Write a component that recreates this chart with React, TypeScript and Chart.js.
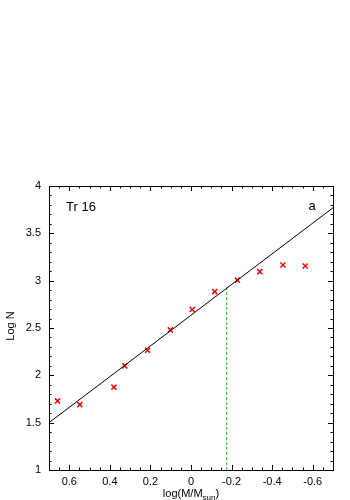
import React, { useEffect, useRef } from "react";
import { Chart, registerables } from "chart.js";

Chart.register(...registerables);

const massLog: number[] = [0.658, 0.548, 0.38, 0.326, 0.214, 0.102, -0.006, -0.117, -0.229, -0.339, -0.453, -0.563];
const logN: number[] = [1.73, 1.69, 1.875, 2.1, 2.265, 2.48, 2.695, 2.885, 3.005, 3.095, 3.165, 3.155];
const fitX: number[] = [0.7, -0.7];
const fitY: number[] = [1.5, 3.77];
const cutX: number[] = [-0.176, -0.176];
const cutY: number[] = [1, 2.93];
const xTickValues: number[] = [0.6, 0.4, 0.2, 0, -0.2, -0.4, -0.6];
const yTickValues: number[] = [1, 1.5, 2, 2.5, 3, 3.5, 4];
const xMinorStep = 0.05;
const yMinorStep = 0.1;
const clusterLabel = "Tr 16";
const panelLabel = "a";
const yTitle = "Log N";

const FONT = "'Liberation Sans', Arial, Helvetica, sans-serif";

const framePlugin = {
  id: "frameTicks",
  afterDraw(chart: any) {
    const ctx = chart.ctx;
    const { left, right, top, bottom } = chart.chartArea;
    const xs = chart.scales.x;
    const ys = chart.scales.y;
    ctx.save();
    ctx.strokeStyle = "#000";
    ctx.lineWidth = 1;
    ctx.strokeRect(Math.round(left) + 0.5, Math.round(top) + 0.5, Math.round(right - left), Math.round(bottom - top));
    ctx.beginPath();
    for (let i = -14; i <= 14; i++) {
      const v = i * xMinorStep;
      const px = Math.round(xs.getPixelForValue(v)) + 0.5;
      if (px < left || px > right) continue;
      const major = i % 4 === 0;
      const len = major ? 5 : 2.5;
      ctx.moveTo(px, bottom);
      ctx.lineTo(px, bottom - len);
      ctx.moveTo(px, top);
      ctx.lineTo(px, top + len);
    }
    for (let i = 10; i <= 40; i++) {
      const v = i * yMinorStep;
      const py = Math.round(ys.getPixelForValue(v)) + 0.5;
      const major = i % 5 === 0;
      const len = major ? 5 : 2.5;
      ctx.moveTo(left, py);
      ctx.lineTo(left + len, py);
      ctx.moveTo(right, py);
      ctx.lineTo(right - len, py);
    }
    ctx.stroke();

    ctx.fillStyle = "#000";
    ctx.textBaseline = "middle";
    ctx.font = `13px ${FONT}`;
    ctx.textAlign = "left";
    ctx.fillText(clusterLabel, 66, 207);
    ctx.textAlign = "center";
    ctx.fillText(panelLabel, 312, 206);

    ctx.font = `11px ${FONT}`;
    ctx.save();
    ctx.translate(11, 326);
    ctx.rotate(-Math.PI / 2);
    ctx.textAlign = "center";
    ctx.fillText(yTitle, 0, 0);
    ctx.restore();

    const a = "log(M/M";
    const s = "sun";
    const c = ")";
    ctx.font = `11px ${FONT}`;
    const wa = ctx.measureText(a).width;
    const wc = ctx.measureText(c).width;
    ctx.font = `8px ${FONT}`;
    const ws = ctx.measureText(s).width;
    const total = wa + ws + wc;
    const x0 = 191 - total / 2;
    ctx.textAlign = "left";
    ctx.font = `11px ${FONT}`;
    ctx.fillText(a, x0, 494);
    ctx.font = `8px ${FONT}`;
    ctx.fillText(s, x0 + wa, 497.5);
    ctx.font = `11px ${FONT}`;
    ctx.fillText(c, x0 + wa + ws, 494);
    ctx.restore();
  },
};

export default function App() {
  const ref = useRef<HTMLCanvasElement | null>(null);
  useEffect(() => {
    if (!ref.current) return;
    const chart = new Chart(ref.current, {
      type: "scatter",
      data: {
        datasets: [
          {
            label: "fit",
            type: "line",
            data: fitX.map((x, i) => ({ x, y: fitY[i] })),
            borderColor: "#000",
            borderWidth: 1,
            pointRadius: 0,
            showLine: true,
            fill: false,
          } as any,
          {
            label: "cut",
            type: "line",
            data: cutX.map((x, i) => ({ x, y: cutY[i] })),
            borderColor: "#00cc00",
            borderWidth: 1,
            borderDash: [3, 2],
            pointRadius: 0,
            showLine: true,
            fill: false,
          } as any,
          {
            label: "counts",
            data: massLog.map((x, i) => ({ x, y: logN[i] })),
            pointStyle: "crossRot",
            pointRadius: 3.6,
            borderColor: "#ff0000",
            backgroundColor: "#ff0000",
            borderWidth: 1.5,
          },
        ],
      },
      options: {
        animation: false,
        responsive: false,
        layout: { padding: { left: 0, top: 186, right: 17, bottom: 0 } },
        plugins: { legend: { display: false }, tooltip: { enabled: false } },
        scales: {
          x: {
            type: "linear",
            reverse: true,
            min: -0.7,
            max: 0.7,
            grid: { display: false, drawTicks: false },
            border: { display: false },
            afterBuildTicks: (scale: any) => {
              scale.ticks = xTickValues.map((v) => ({ value: v }));
            },
            afterFit: (scale: any) => {
              scale.height = 30;
            },
            ticks: {
              padding: 5,
              color: "#000",
              font: { family: FONT, size: 11 },
              maxRotation: 0,
              autoSkip: false,
              callback: (v: any) => {
                const n = Number(v);
                return Math.abs(n) < 1e-9 ? "0" : String(Math.round(n * 10) / 10);
              },
            },
          },
          y: {
            type: "linear",
            min: 1,
            max: 4,
            grid: { display: false, drawTicks: false },
            border: { display: false },
            afterBuildTicks: (scale: any) => {
              scale.ticks = yTickValues.map((v) => ({ value: v }));
            },
            afterFit: (scale: any) => {
              scale.width = 49;
            },
            ticks: {
              padding: 8,
              color: "#000",
              font: { family: FONT, size: 11 },
              autoSkip: false,
              callback: (v: any) => String(Number(v)),
            },
          },
        },
      },
      plugins: [framePlugin],
    });
    return () => chart.destroy();
  }, []);
  return (
    <div style={{ position: "absolute", left: 0, top: 0, width: 350, height: 500, background: "#fff" }}>
      <canvas ref={ref} width={350} height={500} />
    </div>
  );
}
